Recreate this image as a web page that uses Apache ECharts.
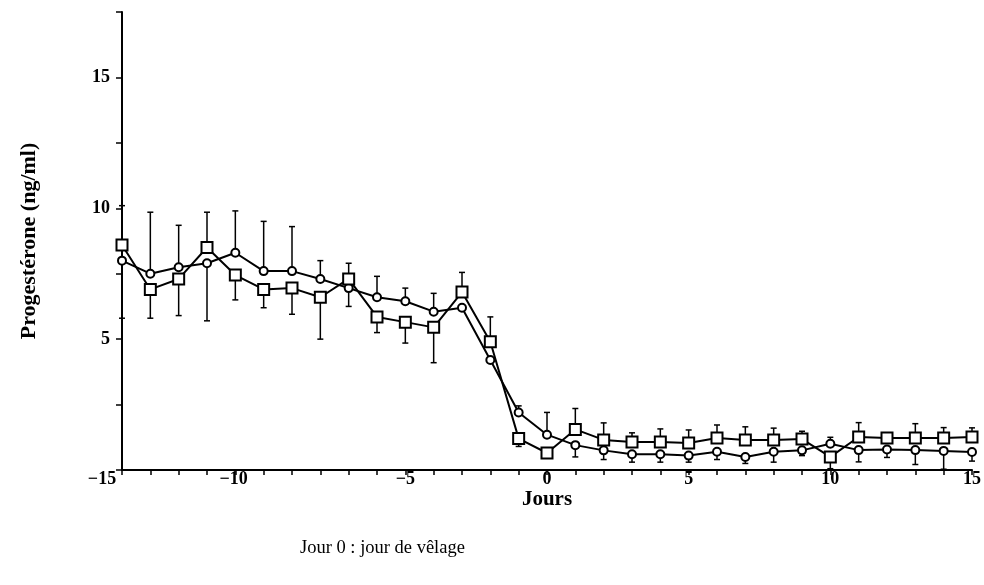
<!DOCTYPE html>
<html>
<head>
<meta charset="utf-8">
<script src="https://cdn.jsdelivr.net/npm/echarts@6/dist/echarts.min.js"></script>
<style>
  html, body { margin: 0; padding: 0; background: #fff; }
  #chart { width: 984px; height: 585px; }
</style>
</head>
<body>
<div id="chart"></div>
<script>
'use strict';

var days = [-15, -14, -13, -12, -11, -10, -9, -8, -7, -6, -5, -4, -3, -2, -1, 0,
  1, 2, 3, 4, 5, 6, 7, 8, 9, 10, 11, 12, 13, 14, 15];

// courbe avec carres
var carres = [8.6, 6.9, 7.3, 8.5, 7.45, 6.9, 6.95, 6.6, 7.3, 5.85, 5.65, 5.45, 6.8, 4.9, 1.2, 0.65,
  1.55, 1.15, 1.07, 1.07, 1.03, 1.22, 1.15, 1.15, 1.18, 0.5, 1.26, 1.22, 1.22, 1.22, 1.26];
var carresHaut = [1.5, 0, 0, 1.35, 0, 0, 0, 0, 0.6, 0, 0, 0, 0.75, 0.95, 0, 0,
  0.8, 0.65, 0.35, 0.5, 0.5, 0.5, 0.5, 0.45, 0.3, 0, 0.55, 0.2, 0.55, 0.4, 0.35];
var carresBas = [2.8, 1.1, 1.4, 0, 0.95, 0.7, 1.0, 1.6, 0, 0.6, 0.8, 1.35, 0, 0, 0.3, 0,
  0, 0, 0, 0, 0, 0, 0, 0, 0, 0.45, 0, 0, 0, 0, 0];

// courbe avec cercles
var cercles = [8.0, 7.5, 7.75, 7.9, 8.3, 7.6, 7.6, 7.3, 6.95, 6.6, 6.45, 6.05, 6.2, 4.2, 2.2, 1.35,
  0.95, 0.75, 0.6, 0.6, 0.55, 0.7, 0.5, 0.7, 0.75, 1.0, 0.76, 0.78, 0.76, 0.73, 0.69];
var cerclesHaut = [0, 2.35, 1.6, 0, 1.6, 1.9, 1.7, 0.7, 0, 0.8, 0.5, 0.7, 0, 0, 0.25, 0.85,
  0, 0, 0, 0, 0, 0, 0, 0, 0, 0.25, 0, 0, 0, 0, 0];
var cerclesBas = [0, 0, 0, 2.2, 0, 0, 0, 0, 0.7, 0, 0, 0, 0, 0, 0, 0,
  0.45, 0.35, 0.3, 0.3, 0.25, 0.3, 0.25, 0.4, 0.2, 0, 0.45, 0.3, 0.55, 0.7, 0.35];

var yTicks = [5, 10, 15];
var xTicks = [-15, -10, -5, 0, 5, 10, 15];

var serif = '"Liberation Serif", "DejaVu Serif", serif';

function pairs(vals) {
  return days.map(function (d, i) { return [d, vals[i]]; });
}

function barres(vals, haut, bas) {
  return days.map(function (d, i) { return [d, vals[i], haut[i], bas[i]]; });
}

function renderBarre(params, api) {
  var x = api.value(0), v = api.value(1), h = api.value(2), b = api.value(3);
  var kids = [];
  var p0 = api.coord([x, v]);
  if (h > 0) {
    var p1 = api.coord([x, v + h]);
    kids.push({ type: 'line', shape: { x1: p0[0], y1: p0[1], x2: p1[0], y2: p1[1] },
      style: { stroke: '#000', lineWidth: 1.5 } });
    kids.push({ type: 'line', shape: { x1: p1[0] - 3, y1: p1[1], x2: p1[0] + 3, y2: p1[1] },
      style: { stroke: '#000', lineWidth: 1.5 } });
  }
  if (b > 0) {
    var p2 = api.coord([x, v - b]);
    kids.push({ type: 'line', shape: { x1: p0[0], y1: p0[1], x2: p2[0], y2: p2[1] },
      style: { stroke: '#000', lineWidth: 1.5 } });
    kids.push({ type: 'line', shape: { x1: p2[0] - 3, y1: p2[1], x2: p2[0] + 3, y2: p2[1] },
      style: { stroke: '#000', lineWidth: 1.5 } });
  }
  return { type: 'group', children: kids };
}

var labelShift = { '-15': 20, '-10': 30 };

var chart = echarts.init(document.getElementById('chart'));
chart.setOption({
  animation: false,
  backgroundColor: '#fff',
  grid: { left: 122, right: 8, top: 12, bottom: 115 },
  xAxis: {
    type: 'value',
    min: -15,
    max: 15,
    interval: 1,
    name: 'Jours',
    nameLocation: 'middle',
    nameGap: 19,
    nameMoveOverlap: false,
    nameTextStyle: { fontFamily: serif, fontWeight: 'bold', fontSize: 21, color: '#000' },
    axisLine: { onZero: false, lineStyle: { color: '#000', width: 2 } },
    axisTick: { length: 5, lineStyle: { color: '#000', width: 1.5 } },
    splitLine: { show: false },
    axisLabel: {
      margin: 0,
      color: '#000',
      fontFamily: serif,
      fontWeight: 'bold',
      fontSize: 18,
      formatter: function (v) {
        if (xTicks.indexOf(v) < 0) return '';
        var s = v < 0 ? '\u2212' + Math.abs(v) : String(v);
        var sh = labelShift[String(v)];
        return sh ? '{n|' + s + '}{p' + sh + '|}' : s;
      },
      rich: {
        n: { fontFamily: serif, fontWeight: 'bold', fontSize: 18, color: '#000' },
        p20: { width: 40 },
        p30: { width: 60 }
      }
    }
  },
  yAxis: {
    type: 'value',
    min: 0,
    max: 17.5,
    interval: 2.5,
    name: 'Progestérone (ng/ml)',
    nameLocation: 'middle',
    nameGap: 82,
    nameRotate: 90,
    nameTextStyle: { fontFamily: serif, fontWeight: 'bold', fontSize: 22, color: '#000' },
    axisLine: { show: true, onZero: false, lineStyle: { color: '#000', width: 2 } },
    axisTick: { show: true, length: 6, lineStyle: { color: '#000', width: 1.5 } },
    splitLine: { show: false },
    axisLabel: {
      margin: 12,
      color: '#000',
      fontFamily: serif,
      fontWeight: 'bold',
      fontSize: 18,
      formatter: function (v) { return yTicks.indexOf(v) >= 0 ? String(v) : ''; }
    }
  },
  series: [
    {
      type: 'custom',
      renderItem: renderBarre,
      data: barres(carres, carresHaut, carresBas),
      z: 1
    },
    {
      type: 'custom',
      renderItem: renderBarre,
      data: barres(cercles, cerclesHaut, cerclesBas),
      z: 1
    },
    {
      type: 'line',
      data: pairs(cercles),
      symbol: 'circle',
      symbolSize: 8,
      lineStyle: { color: '#000', width: 2 },
      itemStyle: { color: '#fff', borderColor: '#000', borderWidth: 2 },
      z: 3
    },
    {
      type: 'line',
      data: pairs(carres),
      symbol: 'rect',
      symbolSize: 11,
      lineStyle: { color: '#000', width: 2 },
      itemStyle: { color: '#fff', borderColor: '#000', borderWidth: 2 },
      z: 4
    }
  ],
  graphic: [
    {
      type: 'text',
      left: 300,
      top: 539,
      style: { text: 'Jour 0 : jour de vêlage', font: '18.5px ' + serif, fill: '#000' }
    }
  ]
});
</script>
</body>
</html>
